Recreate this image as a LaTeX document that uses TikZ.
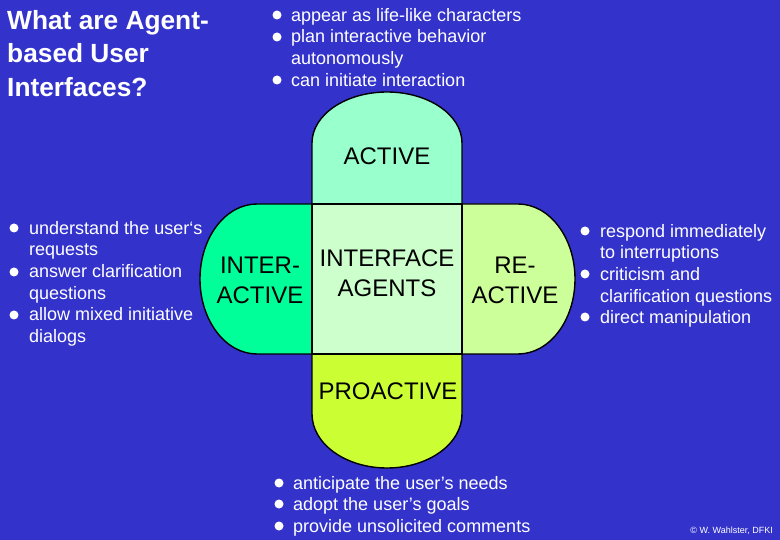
\documentclass[tikz,border=0pt]{standalone}
\usepackage{fontspec}
\setmainfont{Liberation Sans}
\definecolor{slidebg}{HTML}{3333CC}
\definecolor{activefill}{HTML}{99FFCC}
\definecolor{interfill}{HTML}{00FF99}
\definecolor{reactfill}{HTML}{CCFF99}
\definecolor{agentfill}{HTML}{CCFFCC}
\definecolor{profill}{HTML}{CCFF33}
\tikzset{
	lobe/.style={draw=black, line width=1.4pt},
	lobetext/.style={align=center, font=\fontsize{24}{30}\selectfont, inner sep=0pt},
	listtext/.style={anchor=north west, align=left, text=white, inner sep=0pt, font=\fontsize{18}{21.6}\selectfont},
	dot/.style={circle, fill=white, inner sep=0pt, minimum size=9pt}
}
\begin{document}
\begin{tikzpicture}[x=1pt, y=-1pt]
		\fill[slidebg] (0, 0) rectangle (780, 540);
		\useasboundingbox (0, 0) rectangle (780, 540);

		% the four lobes round the square
		\draw[lobe, fill=activefill] (312, 204) -- (312, 143) arc[start angle=180, end angle=360, x radius=75, y radius=51] -- (462, 204) -- cycle;
		\draw[lobe, fill=interfill] (312, 204) -- (257, 204) arc[start angle=270, end angle=90, x radius=57, y radius=75] -- (312, 354) -- cycle;
		\draw[lobe, fill=reactfill] (462, 204) -- (518, 204) arc[start angle=270, end angle=450, x radius=57, y radius=75] -- (462, 354) -- cycle;
		\draw[lobe, fill=profill] (312, 354) -- (312, 414) arc[start angle=180, end angle=0, x radius=75, y radius=54] -- (462, 354) -- cycle;
		\draw[lobe, fill=agentfill] (312, 204) rectangle (462, 354);

		\node[lobetext] (active) at (387, 156) {ACTIVE};
		\node[lobetext] (inter) at (260, 280) {INTER-\\ACTIVE};
		\node[lobetext] (agents) at (387, 273) {INTERFACE\\AGENTS};
		\node[lobetext] (react) at (515, 280) {RE-\\ACTIVE};
		\node[lobetext] (pro) at (388, 391) {PROACTIVE};

		% title
		\node[anchor=north west, align=left, text=white, inner sep=0pt, font=\fontsize{26.3}{33.5}\bfseries\selectfont] (title) at (7, 10) {What are Agent-\\based User\\Interfaces?};

		% lists
		\node[dot] (t1) at (277, 15) {};
		\node[dot] (t2) at (277, 37) {};
		\node[dot] (t3) at (277, 80) {};
		\node[listtext] (top) at (291, 8) {appear as life-like characters\\plan interactive behavior\\\hspace*{0pt}autonomously\\can initiate interaction};

		\node[dot] (l1) at (14, 228) {};
		\node[dot] (l2) at (14, 272) {};
		\node[dot] (l3) at (14, 315) {};
		\node[listtext] (left) at (29, 221) {understand the user‘s\\requests\\answer clarification\\questions\\allow mixed initiative\\dialogs};

		\node[dot] (r1) at (585, 231) {};
		\node[dot] (r2) at (585, 274) {};
		\node[dot] (r3) at (585, 317) {};
		\node[listtext] (right) at (600, 224) {respond immediately\\to interruptions\\criticism and\\clarification questions\\direct manipulation};

		\node[dot] (b1) at (279, 483) {};
		\node[dot] (b2) at (279, 504) {};
		\node[dot] (b3) at (279, 526) {};
		\node[listtext] (bottom) at (293, 476) {anticipate the user's needs\\adopt the user's goals\\provide unsolicited comments};

		\node[anchor=east, text=white, inner sep=0pt, font=\fontsize{9}{11}\selectfont] (credit) at (773, 531) {© W. Wahlster, DFKI};
	\end{tikzpicture}
\end{document}
